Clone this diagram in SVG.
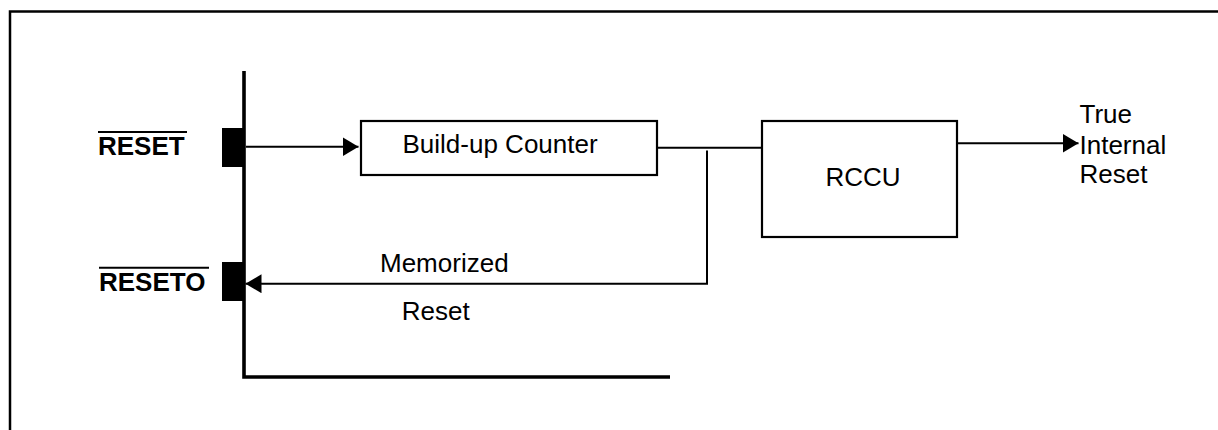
<svg xmlns="http://www.w3.org/2000/svg" width="1218" height="430" viewBox="0 0 1218 430">
  <style>
    .t { font-family: "Liberation Sans", Arial, sans-serif; fill: #000; }
    .b { font-weight: bold; }
    .box { fill: #fff; stroke: #000; stroke-width: 2.2; }
    .wire { fill: none; stroke: #000; stroke-width: 2; }
    .thick { fill: none; stroke: #000; stroke-width: 3.6; }
    .pad { fill: #000; }
  </style>
  <defs>
    <marker id="arr" markerUnits="userSpaceOnUse" markerWidth="17" markerHeight="20" refX="16" refY="9.5" orient="auto" viewBox="0 0 17 20">
      <path d="M0,0 L16,9.5 L0,19 z" fill="#000"/>
    </marker>
  </defs>
  <rect width="1218" height="430" fill="#fff"/>

  <g id="frame">
    <path d="M10,430 L10,11.5 L1218,11.5" fill="none" stroke="#000" stroke-width="2.5"/>
  </g>

  <g id="bus">
    <path class="thick" d="M244,71 L244,377 L670,377"/>
  </g>

  <g id="reset-pin">
    <rect class="pad" x="222" y="128" width="22" height="39"/>
    <text class="t b" x="98" y="155" font-size="26">RESET</text>
    <line x1="98" y1="132" x2="187" y2="132" stroke="#000" stroke-width="2"/>
  </g>

  <g id="reseto-pin">
    <rect class="pad" x="222" y="262" width="22" height="39"/>
    <text class="t b" x="99" y="291" font-size="26">RESETO</text>
    <line x1="99" y1="267.7" x2="209" y2="267.7" stroke="#000" stroke-width="2"/>
  </g>

  <g id="buildup-counter">
    <rect class="box" x="361" y="121" width="296" height="54"/>
    <text class="t" x="402.5" y="153.3" font-size="26">Build-up Counter</text>
  </g>

  <g id="rccu">
    <rect class="box" x="762" y="121" width="195" height="116"/>
    <text class="t" x="825.5" y="186" font-size="26">RCCU</text>
  </g>

  <g id="connectors">
    <line class="wire" x1="246" y1="146.7" x2="358.5" y2="146.7" marker-end="url(#arr)"/>
    <line class="wire" x1="656" y1="147.7" x2="762" y2="147.7"/>
    <polyline class="wire" points="707,150.5 707,283.7 262,283.7"/>
    <line class="wire" x1="262" y1="283.7" x2="245.5" y2="283.7" marker-end="url(#arr)"/>
    <line class="wire" x1="957" y1="143.3" x2="1078.5" y2="143.3" marker-end="url(#arr)"/>
  </g>

  <g id="labels">
    <text class="t" x="380" y="271.7" font-size="26">Memorized</text>
    <text class="t" x="401.7" y="320" font-size="26">Reset</text>
    <text class="t" x="1079.5" y="122.8" font-size="26">True</text>
    <text class="t" x="1079.5" y="154" font-size="26">Internal</text>
    <text class="t" x="1079.5" y="183.3" font-size="26">Reset</text>
  </g>
</svg>
